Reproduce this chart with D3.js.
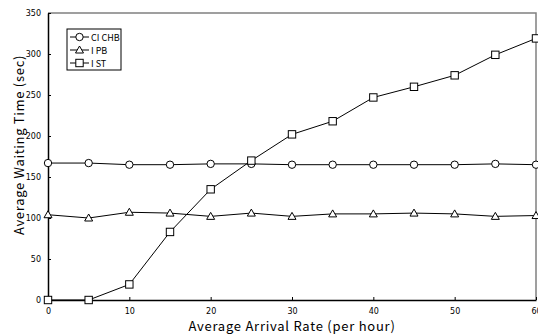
<!DOCTYPE html>
<html>
<head>
<meta charset="utf-8">
<script src="https://cdn.jsdelivr.net/npm/d3@7"></script>
<style>
  body { margin: 0; background: #fff; }
  text { font-family: "Noto Sans CJK JP", "DejaVu Sans", sans-serif; fill: #000; }
</style>
</head>
<body>
<svg id="chart" width="538" height="335"></svg>
<script>
'use strict';

var rates = [0, 5, 10, 15, 20, 25, 30, 35, 40, 45, 50, 55, 60];
var cichb = [167, 167, 165, 165, 166, 166, 165, 165, 165, 165, 165, 166, 165];
var ipb = [104, 100, 107, 106, 102, 106, 102, 105, 105, 106, 105, 102, 103];
var ist = [0, 0, 19, 83, 135, 170, 202, 218, 247, 260, 274, 299, 319];
var seriesNames = ['CI CHB', 'I PB', 'I ST'];
var xTicks = [0, 10, 20, 30, 40, 50, 60];
var yTicks = [0, 50, 100, 150, 200, 250, 300, 350];

var margin = {left: 48, right: 2, top: 13, bottom: 35};
var width = 538, height = 335;

var svg = d3.select('#chart');

var x = d3.scaleLinear().domain([0, 60]).range([margin.left, width - margin.right]);
var y = d3.scaleLinear().domain([0, 350]).range([height - margin.bottom, margin.top]);

// frame on top and right
svg.append('path')
  .attr('d', 'M' + x(0) + ',' + y(350) + 'H' + x(60) + 'V' + y(0))
  .attr('fill', 'none')
  .attr('stroke', '#808080')
  .attr('stroke-width', 1.5);

var xAxis = svg.append('g')
  .attr('transform', 'translate(0,' + y(0) + ')')
  .call(d3.axisBottom(x).tickValues(xTicks).tickSizeInner(-3).tickSizeOuter(0).tickPadding(8));

var yAxis = svg.append('g')
  .attr('transform', 'translate(' + x(0) + ',0)')
  .call(d3.axisLeft(y).tickValues(yTicks).tickSizeInner(-3).tickSizeOuter(0).tickPadding(7));

[xAxis, yAxis].forEach(function(a) {
  a.select('.domain').attr('stroke', '#000').attr('stroke-width', 1.5);
  a.selectAll('.tick line').attr('stroke', '#000');
  a.selectAll('.tick text').style('font-size', '8px').style('font-family', '"DejaVu Sans", sans-serif');
});

svg.append('text')
  .attr('x', 292)
  .attr('y', 331)
  .attr('text-anchor', 'middle')
  .style('font-size', '13px')
  .style('letter-spacing', '0.75px')
  .text('Average Arrival Rate (per hour)');

svg.append('text')
  .attr('transform', 'translate(24,145) rotate(-90)')
  .attr('text-anchor', 'middle')
  .style('font-size', '13px')
  .style('letter-spacing', '0.7px')
  .text('Average Waiting Time (sec)');

var line = d3.line()
  .x(function(d, i) { return x(rates[i]); })
  .y(function(d) { return y(d); });

function drawMarker(g, type, cx, cy) {
  if (type === 'circle') {
    g.append('circle').attr('cx', cx).attr('cy', cy).attr('r', 3.7)
      .attr('fill', '#fff').attr('stroke', '#000');
  } else if (type === 'triangle') {
    g.append('path')
      .attr('d', 'M' + cx + ',' + (cy - 4) + 'L' + (cx + 4) + ',' + (cy + 3) + 'L' + (cx - 4) + ',' + (cy + 3) + 'Z')
      .attr('fill', '#fff').attr('stroke', '#000');
  } else {
    g.append('rect').attr('x', cx - 3.7).attr('y', cy - 3.7).attr('width', 7.4).attr('height', 7.4)
      .attr('fill', '#fff').attr('stroke', '#000');
  }
}

var series = [
  {name: seriesNames[0], values: cichb, marker: 'circle'},
  {name: seriesNames[1], values: ipb, marker: 'triangle'},
  {name: seriesNames[2], values: ist, marker: 'square'}
];

series.forEach(function(s) {
  var g = svg.append('g');
  g.append('path')
    .attr('d', line(s.values))
    .attr('fill', 'none')
    .attr('stroke', '#000')
    .attr('stroke-width', 1);
  s.values.forEach(function(v, i) {
    drawMarker(g, s.marker, x(rates[i]), y(v));
  });
});

// legend
var legend = svg.append('g').attr('transform', 'translate(67,29)');
legend.append('rect')
  .attr('width', 54).attr('height', 41)
  .attr('fill', '#fff').attr('stroke', '#000');

series.forEach(function(s, i) {
  var ly = 8 + i * 13;
  legend.append('line')
    .attr('x1', 3).attr('x2', 22).attr('y1', ly).attr('y2', ly)
    .attr('stroke', '#000');
  drawMarker(legend, s.marker, 12.5, ly);
  legend.append('text')
    .attr('x', 24).attr('y', ly + 3.5)
    .style('font-size', '9px')
    .text(s.name);
});
</script>
</body>
</html>
